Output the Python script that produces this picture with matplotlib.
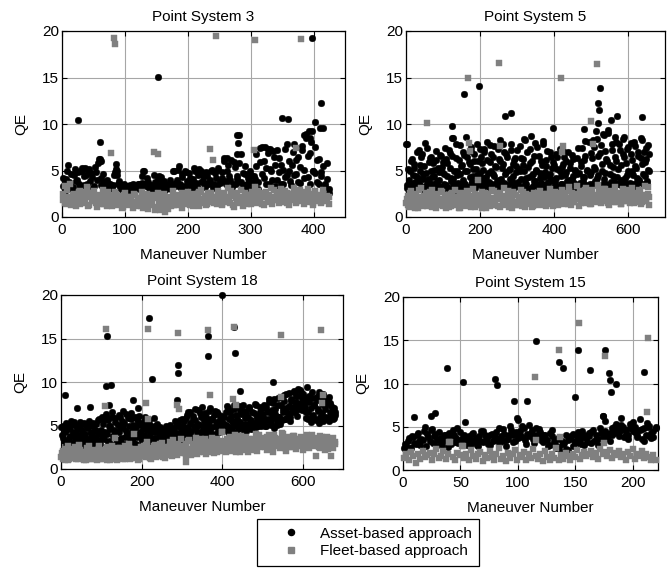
import numpy as np
import matplotlib
matplotlib.use("Agg")
import matplotlib.pyplot as plt
from matplotlib.lines import Line2D

plt.rcParams['font.family'] = ['Liberation Sans', 'DejaVu Sans']

# ---- Point System 3 ----
ps3_n = 424
ps3_asset = [3.3, 2.8, 4.1, 5.6, 3.6, 3.0, 4.5,
             3.9, 4.8, 3.2, 5.0, 4.4, 5.3, 3.5, 5.2, 4.7, 3.1, 5.4, 4.0, 6.2,
             3.4, 4.6, 3.0, 3.7, 2.9, 3.5, 3.2, 4.5, 5.2, 3.6,
             3.1, 2.9, 3.4, 3.0, 3.3, 2.8, 3.2, 3.5, 2.9, 3.1, 3.6, 3.0, 4.4, 5.0, 3.3, 3.8, 2.9, 3.2, 4.5, 3.4,
             4.1, 3.0, 4.3, 3.5, 2.9, 3.2, 3.6, 3.0, 5.0, 3.3,
             4.0, 5.5, 3.2, 4.6, 3.0, 4.8, 3.4, 4.2, 3.1, 5.3, 3.7, 4.5, 3.0, 5.0, 3.9, 3.2, 4.4, 3.6, 4.9, 3.1,
             4.7, 3.3, 5.1, 3.8, 4.2, 6.3, 3.5, 5.6, 4.0, 3.2, 5.9, 3.6, 4.4, 8.8, 6.8, 3.4, 4.6, 3.1, 3.9, 4.5,
             3.2, 4.1, 5.5, 3.0, 7.4, 4.6, 6.0, 3.5, 7.3, 5.2, 4.0, 6.5, 3.3, 7.2, 4.8, 5.6, 3.6, 4.3, 7.8, 5.0,
             3.4, 7.0, 4.5, 6.1, 3.8, 5.4, 7.6, 4.2, 8.9, 6.6, 3.5, 9.2, 5.0, 4.7, 6.1, 3.6, 4.8, 9.6, 3.2, 5.8,
             2.6]
ps3_asset_b = [4.2, 3.5, 5.0, 3.8, 4.6, 3.2, 5.2, 4.0, 3.6, 4.9, 5.3, 3.4, 4.5, 5.1, 3.9, 4.3, 3.3, 4.8, 5.8, 6.0,
               4.2, 3.8, 3.3, 4.0, 3.6, 3.1, 3.4, 4.8, 5.0, 3.9, 3.3, 3.0, 3.5, 3.2, 2.9, 3.4, 3.1, 3.3, 3.0, 3.6,
               3.2, 3.7, 4.9, 3.5, 4.2, 3.1, 3.4, 2.9, 3.8, 3.3, 4.4, 3.6, 3.0, 3.9, 3.4, 3.1, 4.0, 3.5, 4.9, 3.7,
               5.1, 3.6, 4.3, 3.3, 5.0, 3.9, 4.7, 3.5, 4.1, 4.9, 3.2, 5.2, 3.8, 4.4, 3.4, 4.8, 3.7, 4.0, 5.1, 3.6,
               4.2, 5.3, 3.7, 4.8, 6.0, 3.9, 5.0, 4.4, 6.1, 3.6, 5.4, 4.1, 5.8, 3.8, 4.7, 5.5, 3.5, 4.2, 4.9, 3.7,
               4.4, 6.8, 3.8, 5.9, 7.5, 4.2, 5.3, 6.9, 3.6, 4.9, 7.1, 5.6, 4.0, 6.3, 3.5, 5.1, 7.3, 4.5, 6.0, 3.9,
               5.6, 7.8, 4.6, 6.4, 3.7, 7.2, 5.1, 8.5, 4.3, 6.9, 8.1, 4.9, 7.5, 3.8, 6.2, 4.4, 5.5, 3.5, 4.1, 3.0]
ps3_asset_out_x = [25, 60, 60, 62, 86, 88, 152, 278, 280, 279, 350, 360, 398, 403, 410, 412,
                   385, 392, 395, 322, 330, 262]
ps3_asset_out_y = [10.4, 8.1, 6.2, 6.0, 5.7, 4.5, 15.1, 8.8, 8.0, 6.8, 10.6, 10.5, 19.2, 10.2, 9.6, 12.3,
                   8.8, 9.2, 8.5, 7.5, 7.3, 6.3]
ps3_fleet = [1.8, 3.3, 1.4, 2.2, 3.6, 1.6, 2.5, 1.2, 2.0, 2.8, 1.5, 2.3, 1.9, 3.2, 1.3, 2.6, 1.7, 2.1, 1.1, 2.4,
             1.8, 2.9, 1.4, 2.2, 2.7, 1.6, 1.2, 2.0, 2.5, 1.5, 1.9, 2.3, 1.1, 2.6, 1.7, 1.3, 2.1, 1.0, 2.4, 1.6,
             2.0, 1.2, 2.7, 1.5, 1.8, 0.9, 2.3, 1.4, 2.1, 1.1, 2.6, 0.7, 1.7, 2.2, 0.5, 1.5, 2.0, 1.2, 2.8, 1.6,
             1.3, 2.4, 1.8, 1.0, 2.2, 1.6, 2.7, 1.3, 1.9, 2.5, 1.5, 2.1, 1.2, 2.9, 1.7, 2.3, 1.4, 2.0, 2.6, 1.6,
             2.2, 1.4, 2.8, 1.8, 1.3, 2.5, 1.9, 3.1, 1.5, 2.3, 1.1, 2.0, 2.6, 1.6, 2.9, 1.2, 2.1, 1.7, 2.4, 1.4,
             2.0, 3.2, 1.5, 2.5, 1.8, 2.2, 1.3, 2.7, 1.7, 2.0, 1.4, 2.9, 1.9, 2.3, 1.5, 3.0, 1.6, 2.1, 2.6, 1.3,
             2.4, 1.8, 3.1, 1.5, 2.2, 1.9, 2.7, 1.4, 2.0, 3.0, 1.6, 2.5, 1.3, 2.8, 1.7, 2.2, 1.5, 2.6, 1.9, 2.3, 1.4]
ps3_fleet_b = [2.5, 1.5, 2.9, 1.9, 1.3, 2.4, 2.0, 1.6, 2.7, 1.4, 2.2, 1.8, 2.6, 1.2, 2.1, 1.7, 2.8, 1.5, 2.3, 1.9,
               1.4, 2.0, 2.6, 1.2, 1.8, 2.3, 1.5, 2.7, 1.3, 2.1, 1.6, 1.0, 2.4, 1.8, 1.4, 2.2, 1.6, 2.5, 1.2, 1.9,
               1.5, 2.3, 1.0, 1.9, 2.5, 1.3, 1.7, 2.4, 0.8, 2.0, 1.4, 1.9, 1.1, 2.5, 1.6, 0.9, 2.2, 1.7, 1.3, 2.3,
               2.0, 1.5, 2.6, 1.8, 1.4, 2.1, 1.7, 2.4, 1.2, 2.2, 1.8, 2.7, 1.5, 1.9, 2.3, 1.3, 2.6, 1.7, 2.0, 1.5,
               1.7, 2.5, 2.0, 1.4, 2.6, 1.6, 2.2, 1.8, 2.8, 1.3, 2.4, 1.9, 1.5, 2.2, 1.8, 2.6, 1.4, 2.3, 1.9, 2.7,
               1.6, 2.3, 2.8, 1.9, 1.4, 2.6, 2.1, 1.6, 2.4, 3.1, 1.8, 2.2, 2.6, 1.7, 2.4, 1.9, 2.8, 1.5, 2.0, 2.5,
               1.9, 2.6, 1.6, 2.3, 2.9, 1.7, 2.2, 2.5, 1.8, 2.4, 2.1, 1.5, 2.7, 2.0, 2.4, 1.6, 2.9, 2.1, 1.7, 2.2]
ps3_fleet_out_x = [78, 82, 84, 147, 152, 236, 240, 245, 305, 307, 372, 380]
ps3_fleet_out_y = [6.9, 19.2, 18.6, 7.0, 6.8, 7.3, 6.1, 19.5, 7.2, 19.0, 7.4, 19.1]

# ---- Point System 5 ----
ps5_n = 658
ps5_asset = [7.8, 3.1, 2.6, 4.9, 3.4, 6.2, 2.9, 5.3, 3.8, 4.4, 3.0, 7.2, 5.6, 3.3, 6.8, 4.1, 2.8, 8.0, 4.7, 3.5,
             5.9, 3.1, 6.5, 4.3, 3.6, 5.1, 2.9, 6.1, 3.9, 4.8, 3.2, 6.6, 5.4, 3.0,
             4.6, 7.4, 3.4, 5.8, 3.1, 6.9, 4.2, 8.5, 3.7, 5.0, 2.9, 6.3, 4.5, 3.3, 7.7, 5.5, 3.0, 4.0, 6.7, 3.5,
             8.6, 4.9, 3.2, 5.7, 7.1, 3.8, 4.4, 6.0, 3.1, 5.2, 7.9, 3.6, 4.7,
             6.4, 3.0, 5.1, 7.3, 3.7, 4.3, 8.1, 3.2, 5.9, 6.8, 3.5, 4.6, 7.6, 3.1, 5.4, 3.9, 6.2, 8.3, 4.1, 3.3,
             5.7, 7.0, 3.6, 4.8, 6.5, 3.0, 5.2, 7.8, 3.8, 4.4, 6.1, 3.2, 5.5,
             7.2, 3.4, 4.9, 6.3, 3.1, 5.6, 8.4, 3.7, 4.2, 7.0, 3.0, 5.8, 8.7, 4.5, 3.3, 6.6, 3.9, 5.1, 7.5, 3.2,
             4.7, 6.0, 3.6, 8.2, 4.3, 3.0, 5.5, 7.1, 3.8, 4.6, 6.4, 3.1, 5.9,
             4.0, 3.3, 6.8, 5.2, 3.0, 7.3, 4.4, 3.6, 5.7, 6.5, 3.2, 4.8, 3.9, 7.0, 5.3, 3.1, 4.1, 6.2, 3.5, 5.0,
             2.9, 4.6, 7.4, 3.7, 5.5, 3.0, 4.3, 6.1, 8.2, 3.4, 5.1, 2.8, 4.5,
             6.9, 3.3, 8.3, 5.4, 3.9, 9.2, 4.2, 6.6, 3.1, 7.7, 5.0, 3.6, 8.8, 4.7, 6.2, 3.2, 9.4, 5.6, 3.8, 7.2,
             4.4, 3.0, 8.6, 6.0, 3.5, 5.2, 7.9, 4.0, 3.3, 8.4, 6.4, 3.7, 5.8, 4.5, 7.5, 3.1, 6.8, 4.9, 3.6, 8.1,
             5.5, 3.2, 4.2, 7.0, 3.8, 6.3, 8.3, 4.6, 3.4, 5.9, 7.4, 3.9, 5.1, 6.8]
ps5_asset_b = [3.4, 5.2, 4.0, 2.9, 6.0, 3.6, 4.5, 5.7, 3.2, 7.0, 4.2, 3.7, 5.0, 6.4, 3.0, 4.6, 5.5, 3.3, 7.4, 4.1,
               3.8, 6.3, 4.9, 3.1, 5.8, 4.4, 7.1, 3.5, 5.3, 4.0, 6.7, 3.2, 4.8, 5.9,
               3.6, 6.2, 4.4, 3.1, 7.2, 5.3, 3.9, 6.6, 4.1, 3.3, 7.9, 5.0, 3.7, 6.1, 4.6, 3.0, 5.6, 7.0, 3.5, 4.9,
               6.4, 3.2, 5.9, 4.3, 7.5, 3.8, 5.2, 6.8, 3.4, 4.5, 6.0, 3.9, 7.3,
               3.5, 5.8, 4.2, 7.0, 3.3, 6.1, 4.7, 3.8, 7.7, 5.0, 3.1, 6.5, 4.4, 5.5, 3.6, 7.3, 4.0, 6.0, 3.2, 5.3,
               7.9, 3.7, 4.6, 6.8, 3.4, 5.1, 4.1, 7.2, 3.9, 5.7, 3.3, 6.3, 4.8,
               3.8, 5.2, 7.6, 4.1, 3.2, 6.2, 4.9, 8.3, 3.6, 5.4, 4.3, 7.3, 3.1, 6.0, 4.6, 3.9, 8.0, 5.0, 3.4, 6.6,
               4.2, 3.7, 5.6, 7.8, 3.3, 4.8, 6.1, 3.5, 4.4, 7.0, 3.9, 5.3, 4.0,
               5.6, 3.8, 4.2, 6.5, 3.2, 4.9, 3.6, 5.4, 7.1, 3.0, 4.5, 6.0, 3.5, 4.0, 5.8, 3.3, 6.7, 4.4, 3.7, 5.1,
               3.1, 6.3, 4.7, 3.4, 5.9, 7.4, 3.9, 4.3, 6.6, 3.2, 5.0, 8.1, 3.6,
               4.8, 6.3, 3.5, 7.5, 5.2, 3.9, 8.4, 4.5, 6.9, 3.3, 5.7, 8.9, 4.1, 7.1, 3.6, 6.0, 9.0, 4.6, 3.2, 7.8,
               5.4, 3.8, 6.5, 8.1, 4.3, 3.5, 7.2, 5.6, 3.9, 6.8, 8.6, 4.2, 3.4, 7.3, 5.0, 3.7, 8.0, 6.1, 4.5, 3.3,
               7.6, 5.3, 3.8, 6.6, 4.0, 8.5, 5.7, 3.6, 7.0, 4.4, 6.2, 3.5, 7.7, 5.0]
ps5_asset_out_x = [2, 123, 128, 158, 196, 267, 283, 398, 518, 521, 523, 518, 553, 570, 638, 480]
ps5_asset_out_y = [7.8, 9.8, 8.5, 13.2, 14.1, 10.9, 11.2, 9.6, 12.3, 11.5, 13.9, 10.1, 10.4, 10.9, 10.7, 9.5]
ps5_fleet = [1.5, 2.3, 1.1, 2.8, 1.7, 1.3, 2.5, 1.9, 1.0, 2.2, 3.1, 1.4, 1.8, 2.6, 1.2, 2.0, 1.6, 2.9, 1.3, 2.1,
             1.0, 2.4, 1.7, 1.5, 2.7, 1.2, 1.9, 2.3, 1.4, 1.1,
             2.5, 1.8, 1.3, 2.9, 1.6, 2.2, 1.0, 2.6, 1.5, 2.0, 1.2, 2.8, 1.7, 2.3, 1.4, 3.0, 1.1, 1.9, 2.4, 1.6,
             1.3, 2.7, 1.8, 2.1, 1.0, 2.5, 1.5, 2.0, 1.3, 2.8,
             1.7, 2.2, 1.2, 2.6, 1.9, 1.4, 3.1, 1.6, 2.3, 1.1, 2.0, 1.8, 2.7, 1.3, 2.4, 1.5, 1.9, 2.9, 1.2, 2.1,
             1.6, 2.5, 1.4, 1.8, 2.2, 1.1, 2.6, 1.7, 2.0, 1.3,
             2.8, 1.5, 2.3, 1.9, 1.2, 2.5, 1.6, 3.0, 1.4, 2.1, 1.8, 2.6, 1.3, 2.2, 1.7, 2.9, 1.5, 2.4, 2.0, 1.4,
             3.2, 1.8, 2.6, 1.6, 2.2, 3.3, 1.9, 2.8, 1.5, 2.4,
             1.7, 3.1, 2.0, 2.6, 1.4, 2.9, 1.8, 2.3, 1.6, 3.4, 2.1, 1.5, 2.7, 1.9, 3.0, 1.7, 2.4, 1.3, 2.8, 2.0,
             1.6, 3.2, 2.2, 1.8, 2.5, 1.4, 3.0, 1.9, 2.6, 1.7, 2.3, 1.5, 3.1, 2.0, 1.6, 2.4, 1.8, 2.9, 1.4, 2.2,
             1.7, 3.3, 1.9, 2.5, 1.3]
ps5_fleet_b = [1.9, 1.3, 2.6, 1.6, 2.1, 1.0, 2.4, 1.5, 2.9, 1.8, 1.2, 2.3, 1.7, 2.0, 1.4, 2.7, 1.1, 2.2, 1.6, 2.5,
               1.3, 1.9, 2.8, 1.5, 2.1, 1.0, 2.4, 1.7, 1.2, 2.6,
               1.4, 2.1, 1.7, 1.0, 2.4, 1.9, 1.3, 2.2, 1.8, 2.7, 1.5, 1.1, 2.0, 2.5, 1.6, 1.3, 2.3, 1.9, 1.0, 2.6,
               1.5, 2.2, 1.7, 1.2, 2.9, 1.8, 1.4, 2.4, 2.0, 1.1,
               2.3, 1.5, 2.0, 1.3, 2.8, 1.7, 2.1, 1.0, 2.5, 1.6, 1.3, 2.2, 1.9, 1.4, 2.7, 1.1, 2.0, 1.8, 2.4, 1.5,
               1.2, 2.3, 1.9, 2.6, 1.4, 1.7, 2.1, 1.3, 2.5, 1.8,
               1.6, 2.4, 1.9, 1.2, 2.7, 2.1, 1.5, 2.3, 1.8, 2.6, 1.4, 2.0, 1.7, 2.8, 1.3, 2.2, 1.6, 2.5, 1.9, 1.2,
               2.4, 2.0, 1.7, 2.9, 1.5, 2.1, 2.6, 1.4, 2.2, 1.8,
               2.4, 1.9, 2.8, 1.6, 2.2, 3.0, 1.8, 2.5, 1.5, 2.1, 2.7, 1.9, 2.3, 1.6, 2.6, 2.0, 1.4, 2.8, 2.2, 1.7,
               2.5, 2.9, 1.8, 2.1, 1.5, 2.6, 2.3, 1.9, 2.7, 1.6, 2.0, 2.4, 1.8, 3.2, 2.1]
ps5_fleet_out_x = [57, 168, 170, 172, 195, 250, 255, 420, 422, 425, 500, 505, 515]
ps5_fleet_out_y = [10.1, 14.9, 8.0, 7.1, 4.0, 16.6, 7.6, 14.9, 7.0, 7.6, 10.3, 7.9, 16.5]

# ---- Point System 18 ----
ps18_n = 680
ps18_asset = [4.8, 3.6, 2.4, 4.2, 5.3, 3.1, 4.6, 3.8, 5.5, 2.9, 4.0, 5.1, 3.4, 4.7, 3.0, 5.4, 3.9, 4.4, 2.7, 5.2,
              3.5, 4.9, 3.2, 5.0, 4.1, 2.8, 5.3, 3.7, 4.5, 3.3, 5.6, 4.0, 2.9, 6.0,
              3.6, 5.8, 4.3, 6.3, 3.1, 5.0, 4.6, 2.8, 6.0, 3.9, 5.4, 4.2, 3.3, 6.2, 4.8, 3.0, 5.5, 6.7, 3.7, 4.4,
              2.6, 5.9, 4.0, 6.4, 3.4, 5.1, 4.7, 2.9, 5.7, 3.8, 6.1, 4.3, 3.2,
              5.3, 3.9, 6.0, 4.5, 2.8, 5.6, 3.6, 4.9, 3.1, 5.9, 4.2, 3.4, 5.2, 2.7, 4.6, 3.8, 3.0, 4.3, 3.5, 5.0,
              3.2, 4.0, 2.9, 4.7, 3.6, 3.3, 4.4, 4.9, 3.7, 5.4, 3.1, 4.5, 5.8,
              4.1, 5.5, 3.6, 6.2, 4.8, 3.9, 6.6, 4.4, 5.7, 3.5, 6.9, 4.7, 5.2, 3.8, 6.4, 4.3, 7.1, 5.0, 3.7, 6.0,
              4.6, 5.4, 7.0, 4.0, 5.8, 3.9, 6.7, 4.9, 5.3, 6.3, 4.2, 5.6, 6.1,
              4.5, 6.0, 5.1, 7.2, 4.3, 5.7, 6.5, 4.8, 5.3, 7.4, 4.1, 6.2, 5.5, 4.7, 6.8, 5.0, 7.3, 4.4, 5.9, 6.4,
              4.9, 7.0, 5.4, 4.6, 6.6, 5.2, 7.5, 4.8, 6.1, 5.6, 7.1, 5.0, 6.3,
              5.4, 7.4, 4.9, 6.7, 5.8, 8.0, 5.1, 6.2, 7.6, 4.7, 6.9, 5.5, 8.2, 6.0, 5.2, 7.3, 6.5, 8.5, 5.7, 7.0,
              6.3, 8.7, 5.5, 7.8, 6.6, 9.0, 7.2, 8.4, 6.1, 9.2, 7.5, 8.8, 6.8,
              8.6, 7.1, 5.9, 8.2, 6.6, 7.7, 5.4, 8.9, 6.2, 7.4, 5.7, 8.3, 6.9, 5.3, 7.9, 6.4, 8.6, 5.8, 7.2, 6.0,
              8.1, 5.5, 7.6, 6.3, 7.0, 5.9, 6.5]
ps18_asset_b = [3.9, 5.0, 3.2, 4.4, 2.8, 5.1, 3.6, 4.8, 3.0, 4.3, 5.4, 3.5, 4.1, 2.9, 5.0, 3.8, 4.6, 3.3, 5.3, 4.0,
                3.1, 4.7, 5.5, 3.6, 4.2, 3.0, 4.9, 3.7, 5.2, 4.4, 3.2, 5.7, 4.5, 3.8,
                5.2, 3.5, 6.1, 4.0, 5.6, 3.2, 4.9, 6.5, 3.8, 4.5, 5.9, 3.0, 5.1, 4.2, 6.0, 3.6, 4.7, 5.3, 2.9, 6.3,
                4.1, 5.0, 3.5, 5.7, 4.4, 3.1, 6.0, 4.8, 3.7, 5.4, 4.0, 5.1, 3.4,
                4.6, 5.5, 3.3, 4.9, 3.7, 5.2, 4.1, 2.9, 4.6, 3.6, 5.0, 3.1, 4.3, 3.8, 4.8, 3.2, 4.1, 3.5, 4.6, 2.8,
                4.2, 3.7, 5.1, 3.4, 4.5, 3.9, 5.5, 4.1, 3.5, 4.9, 5.6, 4.0, 4.8,
                5.0, 3.9, 5.9, 4.5, 6.5, 4.0, 5.3, 3.7, 6.1, 4.9, 5.6, 4.2, 6.8, 5.1, 3.9, 6.0, 4.6, 5.5, 6.4, 4.1,
                5.2, 6.7, 4.4, 5.8, 4.8, 6.2, 4.0, 5.4, 6.6, 4.5, 5.7, 4.9, 6.0,
                5.3, 4.6, 6.6, 5.0, 7.0, 4.5, 6.1, 5.5, 4.2, 6.9, 5.1, 5.8, 4.6, 7.2, 5.4, 6.3, 4.8, 6.7, 5.2, 4.4,
                6.0, 7.1, 5.0, 5.6, 4.7, 6.4, 5.3, 7.3, 5.9, 4.9, 6.6, 5.5, 7.0,
                6.1, 5.0, 7.1, 5.6, 6.5, 7.7, 5.3, 6.8, 5.9, 8.1, 6.3, 5.1, 7.4, 6.0, 8.3, 5.6, 6.9, 7.8, 5.8, 8.6,
                6.4, 7.2, 6.0, 8.0, 7.0, 8.8, 6.5, 7.7, 8.4, 6.9, 9.1, 7.6, 8.2,
                7.4, 8.0, 6.5, 7.8, 5.8, 8.4, 7.0, 6.1, 8.2, 7.3, 5.6, 7.9, 6.7, 8.5, 6.0, 7.5, 5.5, 8.0, 6.9, 7.7,
                5.9, 8.3, 6.6, 7.2, 5.7, 7.0, 6.2]
ps18_asset_out_x = [10, 40, 72, 112, 115, 118, 125, 178, 190, 218, 225, 288, 290, 291, 365, 366,
                    400, 430, 431, 445, 525, 610, 640]
ps18_asset_out_y = [8.5, 7.0, 7.1, 9.5, 15.3, 7.4, 9.7, 7.9, 7.0, 17.4, 10.4, 7.9, 12.0, 11.0, 15.3, 13.0,
                    20.0, 16.3, 13.3, 9.0, 10.0, 9.4, 8.9]
ps18_fleet = [1.4, 2.1, 1.0, 1.7, 2.6, 1.2, 1.9, 1.5, 2.3, 1.1, 1.8, 2.8, 1.3, 2.0, 1.6, 1.0, 2.4, 1.4, 1.9, 1.2,
              2.2, 1.5, 1.7, 2.7, 1.1,
              1.6, 2.0, 1.3, 2.5, 1.8, 1.0, 2.2, 1.5, 3.6, 1.2, 1.9, 2.4, 1.4, 1.7, 1.1, 2.1, 1.6, 2.9, 1.3, 1.8,
              4.0, 1.5, 2.3, 1.2, 2.0,
              1.7, 2.6, 1.4, 3.1, 1.9, 1.3, 2.4, 1.6, 2.8, 1.5, 2.2, 1.8, 3.0, 1.4, 2.5, 1.9, 1.6, 2.7, 2.1, 3.3,
              1.7, 2.3, 2.9, 1.8, 3.5,
              2.0, 2.6, 1.5, 3.2, 2.3, 1.8, 2.9, 2.1, 3.6, 1.7, 2.5, 3.0, 2.2, 1.9, 3.4, 2.7, 2.0, 3.1, 2.4, 1.8,
              2.8, 3.5, 2.2, 2.6, 4.2,
              2.5, 3.2, 1.9, 2.9, 3.7, 2.3, 2.7, 3.4, 2.0, 3.0, 2.6, 3.8, 2.2, 3.1, 2.8, 1.9, 3.5, 2.4, 3.3, 2.7,
              4.0, 2.1, 3.0, 2.5, 3.6,
              2.8, 3.4, 2.2, 3.9, 2.6, 3.1, 2.0, 3.6, 2.9, 3.3, 2.4, 4.1, 2.7, 3.0, 2.1, 3.7, 2.5, 3.2, 2.8, 3.8,
              2.3, 3.5, 2.6, 3.1, 2.2,
              3.4, 2.7, 3.9, 2.4, 3.2, 2.9, 3.6, 1.5, 3.0, 2.5, 3.8, 2.8, 3.3, 2.2, 3.7, 2.6, 3.1, 3.5, 2.4, 2.9]
ps18_fleet_b = [1.8, 1.2, 2.3, 1.5, 1.0, 2.0, 1.6, 1.3, 2.5, 1.7, 1.1, 2.2, 1.5, 1.8, 1.0, 2.0, 1.4, 2.6, 1.2, 1.7,
                1.3, 2.1, 1.0, 1.9, 1.6,
                1.2, 2.2, 1.6, 1.0, 2.0, 1.4, 2.7, 1.3, 1.8, 1.0, 2.4, 1.5, 2.0, 1.2, 2.6, 1.4, 1.9, 1.1, 2.3, 1.6,
                1.3, 2.1, 1.0, 1.8, 2.5,
                2.1, 1.5, 2.8, 1.8, 2.3, 1.2, 2.0, 2.6, 1.4, 2.2, 1.7, 2.9, 1.6, 2.1, 1.3, 2.4, 1.8, 3.1, 1.5, 2.2,
                2.7, 1.6, 2.0, 2.5, 1.9,
                2.4, 1.8, 2.9, 2.2, 3.3, 1.6, 2.7, 2.0, 3.1, 2.4, 1.9, 3.4, 2.2, 2.8, 1.7, 3.0, 2.5, 2.1, 3.6, 2.3,
                2.9, 2.0, 3.2, 2.6, 2.1,
                3.0, 2.3, 3.5, 2.7, 2.1, 3.3, 2.6, 3.9, 2.4, 3.1, 2.0, 3.4, 2.9, 2.3, 3.7, 2.6, 3.0, 2.2, 3.5, 2.8,
                2.4, 3.2, 3.9, 2.7, 2.9,
                3.2, 2.5, 3.7, 2.9, 3.4, 2.3, 3.9, 3.0, 2.6, 3.5, 2.8, 3.3, 4.0, 2.4, 3.6, 2.9, 3.1, 2.5, 3.8, 3.2,
                2.7, 3.4, 2.9, 3.7, 2.6,
                3.0, 3.6, 2.5, 3.3, 2.8, 3.9, 2.6, 3.4, 2.9, 3.2, 2.4, 3.7, 3.0, 2.7, 3.5, 2.3, 3.3, 2.8, 3.6, 3.1]
ps18_fleet_out_x = [110, 112, 212, 215, 215, 288, 290, 292, 310, 365, 370, 400, 428, 430, 435,
                    545, 547, 645, 648, 650, 670]
ps18_fleet_out_y = [7.2, 16.1, 7.6, 16.1, 5.8, 7.4, 15.6, 6.9, 0.8, 16.0, 8.5, 4.2, 8.0, 16.3, 7.4,
                    15.4, 8.3, 16.0, 7.6, 8.5, 1.5]

# ---- Point System 15 ----
ps15_n = 220
ps15_asset = [2.5, 2.8, 3.7, 2.6, 3.8, 3.0, 4.3, 2.9, 3.5, 5.0, 4.2, 3.3, 4.7, 3.9, 2.8, 4.4, 3.1, 3.6, 4.0, 2.7,
              3.8, 4.6, 3.2, 4.9, 3.5, 2.9, 4.1, 3.4, 3.9, 3.0, 4.3, 3.7, 2.8, 3.3, 4.5, 4.1, 3.6, 2.9, 4.2, 3.5,
              4.4, 3.1, 3.9, 4.7, 2.8, 3.6, 5.1, 4.0, 3.3, 6.0, 4.5, 3.8, 4.9, 3.0, 5.2, 4.3, 3.6, 4.8, 3.9, 4.4,
              3.2, 4.1, 3.5, 2.9, 4.6, 3.3, 2.5, 3.8, 2.1, 3.0, 4.0, 2.3, 3.6, 4.2, 3.1, 3.9, 3.4, 4.5, 2.9, 3.7,
              4.3, 3.1, 4.6, 3.5, 2.9, 4.8, 3.8, 5.7, 4.1, 3.4, 4.9, 4.3, 5.3, 3.9, 4.6, 5.0, 4.2, 3.6, 4.8, 5.5,
              4.4, 3.8, 5.9, 4.7, 3.4, 4.0, 5.1, 3.7, 4.5, 5.0]
ps15_asset_b = [3.0, 3.3, 2.6, 3.9, 3.1, 4.0, 3.4, 3.6, 4.5, 2.8, 3.8, 4.6, 3.1, 4.2, 3.5, 3.7, 2.9, 4.1, 3.3, 4.3,
                3.0, 4.0, 3.7, 3.1, 4.4, 3.8, 3.2, 2.9, 3.6, 4.2, 3.4, 2.9, 3.9, 4.5, 3.2, 3.7, 3.0, 4.1, 3.3, 3.8,
                3.6, 4.8, 3.4, 4.2, 3.5, 4.1, 4.6, 3.2, 4.4, 3.7, 4.0, 5.1, 3.5, 4.2, 3.9, 4.6, 3.1, 4.1, 4.7, 3.5,
                4.0, 3.6, 2.8, 4.3, 3.9, 3.0, 3.6, 2.7, 3.4, 3.1, 2.4, 3.5, 3.9, 2.8, 3.3, 4.4, 3.0, 3.8, 4.1, 3.2,
                3.9, 4.4, 3.3, 4.0, 3.6, 4.3, 6.2, 4.5, 3.7, 4.3, 4.0, 5.0, 4.7, 4.4, 5.2, 3.8, 4.6, 4.1, 5.3, 4.5,
                5.0, 4.1, 4.6, 3.6, 4.9, 5.4, 3.9, 4.3, 3.8, 4.8]
ps15_asset_out_x = [10, 24, 28, 38, 52, 54, 80, 82, 97, 100, 108, 116, 136, 139, 150, 152, 163,
                    174, 176, 179, 180, 181, 185, 190, 210, 213]
ps15_asset_out_y = [6.1, 6.3, 6.6, 11.8, 10.2, 5.5, 10.5, 9.8, 8.0, 5.8, 8.0, 14.9, 12.5, 11.8, 8.4, 13.9, 11.6,
                    6.2, 13.9, 11.2, 10.4, 9.0, 10.0, 6.0, 11.3, 5.0]
ps15_fleet = [1.4, 1.8, 1.2, 2.1, 1.6, 0.8, 1.9, 1.3, 2.2, 1.5, 1.7, 2.0, 1.1, 1.8, 2.4, 1.4, 1.6, 2.2, 1.3, 1.9,
              3.2, 1.5, 1.2, 2.0, 1.7, 2.8, 1.4, 1.9, 1.1, 2.3, 1.6, 1.3, 1.8, 2.1, 1.0, 1.7, 1.4, 2.2, 1.5, 1.2,
              1.9, 2.5, 1.3, 1.6, 1.0, 2.0, 1.4, 1.8, 2.3, 1.1, 1.7, 1.5, 2.1, 1.2, 1.9, 1.4, 2.4, 1.6, 1.3, 1.8,
              1.0, 2.2, 1.5, 1.2, 1.9, 1.4, 2.6, 1.1, 1.7, 1.3, 2.0, 1.6, 1.2, 1.8, 1.5, 2.3, 1.3, 1.7, 2.1, 1.6,
              1.9, 2.2, 1.5, 2.0, 1.3, 2.4, 1.8, 2.1, 1.6, 2.3, 1.4, 2.0, 1.7, 2.2, 1.5, 1.9, 1.2, 2.1, 1.6, 2.4,
              1.3, 1.9, 1.6, 2.2, 1.4, 1.8, 1.5, 1.2, 1.7, 1.1]
ps15_fleet_out_x = [40, 52, 115, 116, 136, 137, 153, 175, 176, 212, 213]
ps15_fleet_out_y = [3.2, 2.8, 10.8, 3.5, 13.9, 3.8, 17.0, 3.1, 13.2, 6.7, 15.3]

GRAY = '#808080'
FS = 11


def panel(rect, title, n, asset_lists, a_ox, a_oy, fleet_lists, f_ox, f_oy, xmax, xticks):
    ax = fig.add_axes(rect)
    xa = np.concatenate([np.linspace(1 + k, n, len(a)) for k, a in enumerate(asset_lists)] + [a_ox])
    ya = np.concatenate(asset_lists + [a_oy])
    xf = np.concatenate([np.linspace(1 + k, n, len(f)) for k, f in enumerate(fleet_lists)] + [f_ox])
    yf = np.concatenate(fleet_lists + [f_oy])
    ax.plot(xa, ya, 'o', color='k', ms=4.8, mec='k', mew=0.3, clip_on=False, zorder=3)
    ax.plot(xf, yf, 's', color=GRAY, ms=4.2, mec=GRAY, mew=0.3, clip_on=False, zorder=4)
    ax.set_xlim(0, xmax)
    ax.set_ylim(0, 20)
    ax.set_xticks(xticks)
    ax.set_yticks([0, 5, 10, 15, 20])
    ax.grid(True, color='#a6a6a6', lw=0.8)
    ax.set_axisbelow(True)
    ax.tick_params(direction='in', top=True, right=True, length=3.5, width=0.8,
                   labelsize=FS, pad=2)
    ax.tick_params(axis='x', pad=4.5)
    for s in ax.spines.values():
        s.set_linewidth(0.9)
    ax.set_title(title, fontsize=FS, pad=7)
    ax.set_xlabel('Maneuver Number', fontsize=FS, labelpad=7.5)
    ax.set_ylabel('QE', fontsize=FS, labelpad=10)
    return ax


fig = plt.figure(figsize=(6.69, 5.69), dpi=100)
W, H = 669.0, 569.0

panel([62 / W, 1 - 217 / H, 283 / W, 186 / H], 'Point System 3', ps3_n,
      [ps3_asset, ps3_asset_b], ps3_asset_out_x, ps3_asset_out_y,
      [ps3_fleet, ps3_fleet_b], ps3_fleet_out_x, ps3_fleet_out_y,
      450, [0, 100, 200, 300, 400])
panel([406 / W, 1 - 217 / H, 259 / W, 186 / H], 'Point System 5', ps5_n,
      [ps5_asset, ps5_asset_b], ps5_asset_out_x, ps5_asset_out_y,
      [ps5_fleet, ps5_fleet_b], ps5_fleet_out_x, ps5_fleet_out_y,
      700, [0, 200, 400, 600])
panel([61 / W, 1 - 469 / H, 282 / W, 174 / H], 'Point System 18', ps18_n,
      [ps18_asset, ps18_asset_b], ps18_asset_out_x, ps18_asset_out_y,
      [ps18_fleet, ps18_fleet_b], ps18_fleet_out_x, ps18_fleet_out_y,
      700, [0, 200, 400, 600])
panel([403 / W, 1 - 470 / H, 255 / W, 173 / H], 'Point System 15', ps15_n,
      [ps15_asset, ps15_asset_b], ps15_asset_out_x, ps15_asset_out_y,
      [ps15_fleet], ps15_fleet_out_x, ps15_fleet_out_y,
      222, [0, 50, 100, 150, 200])

handles = [Line2D([], [], ls='none', marker='o', color='k', ms=4.4),
           Line2D([], [], ls='none', marker='s', color=GRAY, ms=3.9)]
leg = fig.legend(handles, ['Asset-based approach', 'Fleet-based approach'],
                 loc='upper left', bbox_to_anchor=(257 / W, 1 - 519 / H),
                 fontsize=FS, frameon=True, fancybox=False, edgecolor='k',
                 framealpha=1, borderaxespad=0, handlelength=3.5, handletextpad=0.1,
                 borderpad=0.5, labelspacing=0.25)
leg.get_frame().set_linewidth(0.9)

fig.savefig('out.png', dpi=100)
